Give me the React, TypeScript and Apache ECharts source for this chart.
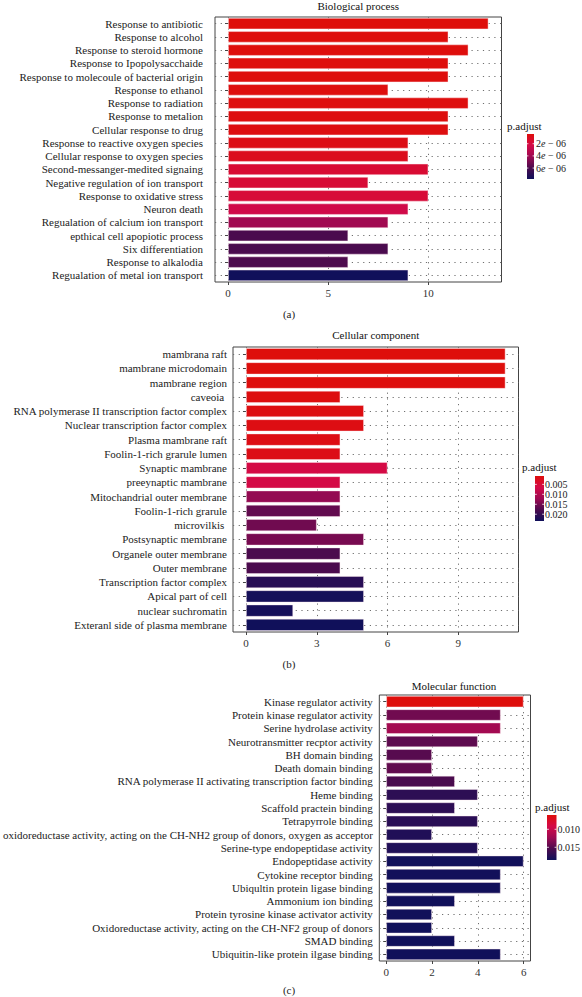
import React, { useEffect, useRef } from "react";
import * as echarts from "echarts";

// ---------- data ----------
const bpTerms = [
  "Response to antibiotic",
  "Response to alcohol",
  "Response to steroid hormone",
  "Response to Ipopolysacchaide",
  "Response to molecoule of bacterial origin",
  "Response to ethanol",
  "Response to radiation",
  "Response to metalion",
  "Cellular response to drug",
  "Response to reactive oxygen species",
  "Cellular response to oxygen species",
  "Second-messanger-medited signaing",
  "Negative regulation of ion transport",
  "Response to oxidative stress",
  "Neuron death",
  "Regualation of calcium ion transport",
  "epthical cell apopiotic process",
  "Six differentiation",
  "Response to alkalodia",
  "Regualation of metal ion transport",
];
const bpCounts = [13, 11, 12, 11, 11, 8, 12, 11, 11, 9, 9, 10, 7, 10, 9, 8, 6, 8, 6, 9];
const bpPadj = [
  4.0e-7, 4.1e-7, 4.2e-7, 4.3e-7, 4.4e-7, 4.6e-7, 4.8e-7, 5.0e-7, 5.5e-7, 7.0e-7,
  9.5e-7, 1.6e-6, 1.7e-6, 1.75e-6, 2.4e-6, 4.0e-6, 6.0e-6, 6.0e-6, 5.9e-6, 7.8e-6,
];
const bpXTicks = [0, 5, 10];
const bpLegendTicks = [2e-6, 4e-6, 6e-6];

const ccTerms = [
  "mambrana raft",
  "mambrane microdomain",
  "mambrane region",
  "caveoia ",
  "RNA polymerase II transcription factor complex",
  "Nuclear transcription factor complex",
  "Plasma mambrane raft",
  "Foolin-1-rich grarule lumen",
  "Synaptic mambrane",
  "preeynaptic mambrane",
  "Mitochandrial outer membrane",
  "Foolin-1-rich grarule",
  "microvilkis ",
  "Postsynaptic membrane",
  "Organele outer membrane",
  "Outer membrane",
  "Transcription factor complex",
  "Apical part of cell",
  "nuclear suchromatin",
  "Exteranl side of plasma membrane",
];
const ccCounts = [11, 11, 11, 4, 5, 5, 4, 4, 6, 4, 4, 4, 3, 5, 4, 4, 5, 5, 2, 5];
const ccPadj = [
  0.0008, 0.0009, 0.001, 0.0012, 0.0014, 0.0015, 0.0016, 0.0018, 0.0062, 0.0063,
  0.0128, 0.0162, 0.0153, 0.0148, 0.0178, 0.0178, 0.0211, 0.0229, 0.0228, 0.0234,
];
const ccXTicks = [0, 3, 6, 9];
const ccLegendTicks = [0.005, 0.01, 0.015, 0.02];

const mfTerms = [
  "Kinase regulator activity",
  "Protein kinase regulator activity",
  "Serine hydrolase activity",
  "Neurotransmitter recptor activity",
  "BH domain binding",
  "Death domain binding",
  "RNA polymerase II activating transcription factor binding",
  "Heme binding",
  "Scaffold practein binding",
  "Tetrapyrrole binding",
  "oxidoreductase activity, acting on the CH-NH2 group of donors, oxygen as acceptor",
  "Serine-type endopeptidase activity",
  "Endopeptidase activity",
  "Cytokine receptor binding",
  "Ubiqultin protein ligase binding",
  "Ammonium ion binding",
  "Protein tyrosine kinase activator activity",
  "Oxidoreductase activity, acting on the CH-NF2 group of donors",
  "SMAD binding",
  "Ubiquitin-like protein ilgase binding",
];
const mfCounts = [6, 5, 5, 4, 2, 2, 3, 4, 3, 4, 2, 4, 6, 5, 5, 3, 2, 2, 3, 5];
const mfPadj = [
  0.00603, 0.014, 0.012, 0.0147, 0.015, 0.0146, 0.0155, 0.017, 0.017, 0.0172,
  0.0177, 0.0177, 0.0184, 0.0184, 0.0184, 0.0185, 0.0185, 0.0185, 0.0185, 0.01853,
];
const mfXTicks = [0, 2, 4, 6];
const mfLegendTicks = [0.01, 0.015];

// ---------- style / layout ----------
const FONT = "Liberation Serif";
const COLORS = ["#DE0E0B", "#D40A48", "#9E0A52", "#4C0B4E", "#10105A"];
const GRID_LINE = { type: [1.2, 4.5], color: "#6f6f6f", width: 1 };

const panels = [
  {
    title: "Biological process",
    tag: "(a)",
    terms: bpTerms,
    counts: bpCounts,
    padj: bpPadj,
    xTicks: bpXTicks,
    legendTicks: bpLegendTicks,
    legendFmt: (v: number) => `${Math.round(v / 1e-6)}{it|e} − 06`,
    grid: { left: 215, top: 17, width: 286.5, height: 265 },
    labelMargin: 12,
    titleY: 6,
    tagY: 314,
    legend: { x: 527, y: 134, w: 7, h: 45, titleX: 507, titleY: 126, labelX: 536 },
  },
  {
    title: "Cellular component",
    tag: "(b)",
    terms: ccTerms,
    counts: ccCounts,
    padj: ccPadj,
    xTicks: ccXTicks,
    legendTicks: ccLegendTicks,
    legendFmt: (v: number) => v.toFixed(3),
    grid: { left: 233, top: 347, width: 285.5, height: 285 },
    labelMargin: 6,
    titleY: 335,
    tagY: 664,
    legend: { x: 535, y: 476, w: 9, h: 45, titleX: 522, titleY: 467, labelX: 545 },
  },
  {
    title: "Molecular function",
    tag: "(c)",
    terms: mfTerms,
    counts: mfCounts,
    padj: mfPadj,
    xTicks: mfXTicks,
    legendTicks: mfLegendTicks,
    legendFmt: (v: number) => v.toFixed(3),
    grid: { left: 377.5, top: 695, width: 153, height: 266 },
    labelMargin: 6.5,
    titleY: 686,
    tagY: 990,
    legend: { x: 547, y: 815, w: 9.5, h: 45, titleX: 535, titleY: 807, labelX: 557.5 },
  },
];

function buildOption() {
  const grid: any[] = [];
  const xAxis: any[] = [];
  const yAxis: any[] = [];
  const series: any[] = [];
  const visualMap: any[] = [];
  const graphic: any[] = [];

  panels.forEach((p, i) => {
    const maxC = Math.max(...p.counts);
    const pmin = Math.min(...p.padj);
    const pmax = Math.max(...p.padj);
    grid.push({
      ...p.grid,
      show: true,
      borderColor: "#444",
      borderWidth: 1,
      backgroundColor: "#fff",
    });
    xAxis.push({
      type: "value",
      gridIndex: i,
      min: -0.05 * maxC,
      max: 1.05 * maxC,
      axisLine: { show: false },
      axisTick: { show: true, length: 3, customValues: p.xTicks, lineStyle: { color: "#444" } },
      axisLabel: {
        customValues: p.xTicks,
        fontFamily: FONT,
        fontSize: 11,
        color: "#333",
        margin: 5,
      },
      splitLine: { show: true, lineStyle: GRID_LINE },
    });
    yAxis.push({
      type: "category",
      gridIndex: i,
      data: p.terms,
      inverse: true,
      axisLine: { show: false },
      axisTick: { show: true, alignWithLabel: true, length: 3, interval: 0, lineStyle: { color: "#444" } },
      axisLabel: {
        interval: 0,
        fontFamily: FONT,
        fontSize: 11,
        color: "#222",
        margin: p.labelMargin,
      },
      splitLine: {
        show: true,
        interval: 0,
        alignWithLabel: true,
        lineStyle: GRID_LINE,
      },
    });
    series.push({
      type: "bar",
      xAxisIndex: i,
      yAxisIndex: i,
      barWidth: "86%",
      encode: { x: 0, y: 1 },
      data: p.terms.map((t, j) => [p.counts[j], t, p.padj[j]]),
      itemStyle: { borderColor: "rgba(255,235,240,0.55)", borderWidth: 0.8 },
    });
    visualMap.push({
      type: "continuous",
      show: false,
      seriesIndex: i,
      dimension: 2,
      min: pmin,
      max: pmax,
      inRange: { color: COLORS },
    });

    const cx = p.grid.left + p.grid.width / 2;
    graphic.push({
      type: "text",
      x: cx,
      y: p.titleY,
      style: { text: p.title, font: `11px "${FONT}"`, fill: "#111", align: "center", verticalAlign: "middle" },
    });
    graphic.push({
      type: "text",
      x: 289,
      y: p.tagY,
      style: { text: p.tag, font: `11px "${FONT}"`, fill: "#222", align: "center", verticalAlign: "middle" },
    });
    const L = p.legend;
    graphic.push({
      type: "text",
      x: L.titleX,
      y: L.titleY,
      style: { text: "p.adjust", font: `11px "${FONT}"`, fill: "#111", align: "left", verticalAlign: "middle" },
    });
    graphic.push({
      type: "rect",
      shape: { x: L.x, y: L.y, width: L.w, height: L.h },
      style: {
        fill: new echarts.graphic.LinearGradient(
          0, 0, 0, 1,
          COLORS.map((c, k) => ({ offset: k / (COLORS.length - 1), color: c }))
        ),
      },
    });
    p.legendTicks.forEach((v) => {
      const ty = L.y + ((v - pmin) / (pmax - pmin)) * L.h;
      graphic.push({
        type: "line",
        shape: { x1: L.x, y1: ty, x2: L.x + L.w / 5, y2: ty },
        style: { stroke: "#fff", lineWidth: 0.8 },
      });
      graphic.push({
        type: "line",
        shape: { x1: L.x + L.w - L.w / 5, y1: ty, x2: L.x + L.w, y2: ty },
        style: { stroke: "#fff", lineWidth: 0.8 },
      });
      graphic.push({
        type: "text",
        x: L.labelX,
        y: ty,
        style: {
          text: p.legendFmt(v),
          font: `10px "${FONT}"`,
          fill: "#222",
          align: "left",
          verticalAlign: "middle",
          rich: { it: { fontStyle: "italic", fontFamily: FONT, fontSize: 10, fill: "#222" } },
        },
      });
    });
  });

  return {
    animation: false,
    backgroundColor: "#fff",
    textStyle: { fontFamily: FONT },
    grid,
    xAxis,
    yAxis,
    series,
    visualMap,
    graphic,
  };
}

export default function App() {
  const ref = useRef<HTMLDivElement>(null);
  useEffect(() => {
    if (!ref.current) return;
    const chart = echarts.init(ref.current, undefined, { renderer: "svg" });
    chart.setOption(buildOption() as any);
    return () => chart.dispose();
  }, []);
  return (
    <div
      ref={ref}
      style={{ position: "absolute", left: 0, top: 0, width: 582, height: 997, background: "#fff" }}
    />
  );
}
